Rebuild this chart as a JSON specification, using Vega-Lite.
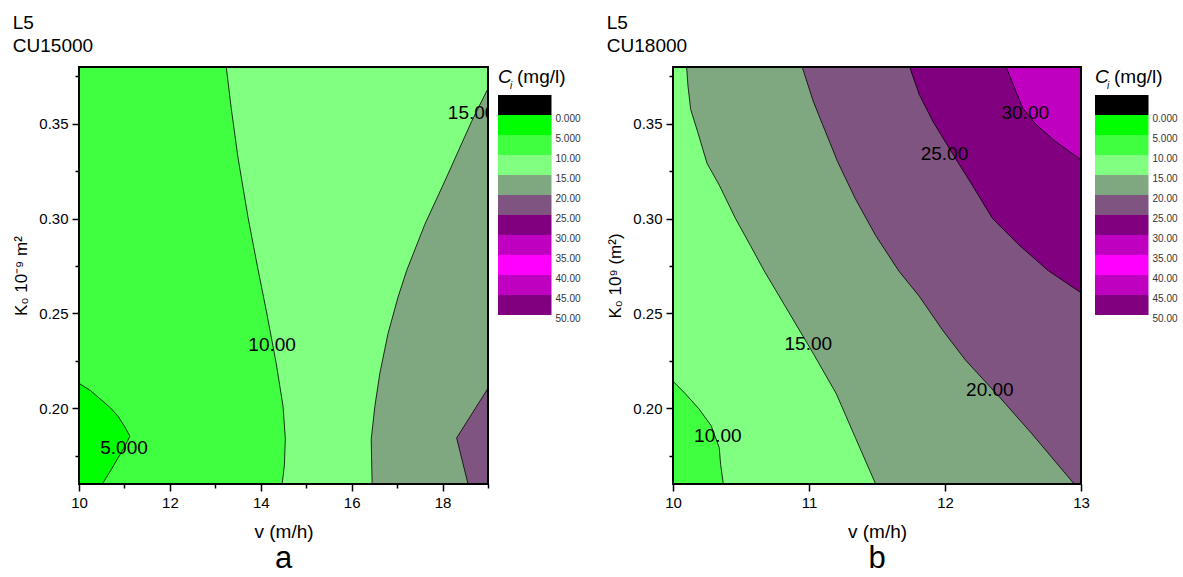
{
  "$schema": "https://vega.github.io/schema/vega-lite/v6.json",
  "background": "white",
  "padding": {"left": 12, "top": 14, "right": 0, "bottom": 0},
  "config": {
    "font": "Liberation Sans",
    "view": {"stroke": null},
    "title": {"font": "Liberation Sans", "fontWeight": "normal", "color": "black"},
    "axis": {"labelFont": "Liberation Sans", "titleFont": "Liberation Sans", "labelColor": "black", "titleColor": "black", "titleFontWeight": "normal", "tickColor": "black", "grid": false, "domain": false, "labelOverlap": false, "labelFlush": false}
  },
  "datasets": {
    "bandsA": [
      {"band": "0–5", "x": 10, "y": 0.16}, {"band": "0–5", "x": 10, "y": 0.38},
      {"band": "5–10", "x": 10.51, "y": 0.16}, {"band": "5–10", "x": 10.7, "y": 0.1672}, {"band": "5–10", "x": 10.86, "y": 0.1738}, {"band": "5–10", "x": 11.0, "y": 0.1795}, {"band": "5–10", "x": 11.12, "y": 0.1852}, {"band": "5–10", "x": 11.0, "y": 0.1905}, {"band": "5–10", "x": 10.86, "y": 0.1957}, {"band": "5–10", "x": 10.7, "y": 0.2}, {"band": "5–10", "x": 10.49, "y": 0.2044}, {"band": "5–10", "x": 10.25, "y": 0.2093}, {"band": "5–10", "x": 10.0, "y": 0.2131}, {"band": "5–10", "x": 10.0, "y": 0.38},
      {"band": "10–15", "x": 14.47, "y": 0.16}, {"band": "10–15", "x": 14.52, "y": 0.17}, {"band": "10–15", "x": 14.54, "y": 0.184}, {"band": "10–15", "x": 14.49, "y": 0.201}, {"band": "10–15", "x": 14.34, "y": 0.2236}, {"band": "10–15", "x": 14.12, "y": 0.2516}, {"band": "10–15", "x": 13.93, "y": 0.2743}, {"band": "10–15", "x": 13.72, "y": 0.3006}, {"band": "10–15", "x": 13.5, "y": 0.332}, {"band": "10–15", "x": 13.35, "y": 0.3582}, {"band": "10–15", "x": 13.24, "y": 0.38},
      {"band": "15–20", "x": 16.45, "y": 0.16}, {"band": "15–20", "x": 16.43, "y": 0.1835}, {"band": "15–20", "x": 16.51, "y": 0.2009}, {"band": "15–20", "x": 16.62, "y": 0.2184}, {"band": "15–20", "x": 16.8, "y": 0.2394}, {"band": "15–20", "x": 17.02, "y": 0.2586}, {"band": "15–20", "x": 17.21, "y": 0.2726}, {"band": "15–20", "x": 17.61, "y": 0.297}, {"band": "15–20", "x": 18.05, "y": 0.3198}, {"band": "15–20", "x": 18.64, "y": 0.3513}, {"band": "15–20", "x": 19, "y": 0.3687},
      {"band": "20–25", "x": 18.56, "y": 0.16}, {"band": "20–25", "x": 18.31, "y": 0.1843}, {"band": "20–25", "x": 19, "y": 0.2105}
    ],
    "bandsB": [
      {"band": "5–10", "x": 10, "y": 0.16}, {"band": "5–10", "x": 10, "y": 0.38},
      {"band": "10–15", "x": 10.37, "y": 0.16}, {"band": "10–15", "x": 10.35, "y": 0.1704}, {"band": "10–15", "x": 10.34, "y": 0.1792}, {"band": "10–15", "x": 10.28, "y": 0.1908}, {"band": "10–15", "x": 10.19, "y": 0.1997}, {"band": "10–15", "x": 10.09, "y": 0.2077}, {"band": "10–15", "x": 10, "y": 0.2142}, {"band": "10–15", "x": 10, "y": 0.38},
      {"band": "15–20", "x": 11.49, "y": 0.16}, {"band": "15–20", "x": 11.34, "y": 0.1846}, {"band": "15–20", "x": 11.2, "y": 0.2077}, {"band": "15–20", "x": 11.03, "y": 0.229}, {"band": "15–20", "x": 10.81, "y": 0.2556}, {"band": "15–20", "x": 10.67, "y": 0.2725}, {"band": "15–20", "x": 10.57, "y": 0.2857}, {"band": "15–20", "x": 10.46, "y": 0.3}, {"band": "15–20", "x": 10.34, "y": 0.3177}, {"band": "15–20", "x": 10.25, "y": 0.3292}, {"band": "15–20", "x": 10.18, "y": 0.3461}, {"band": "15–20", "x": 10.13, "y": 0.3576}, {"band": "15–20", "x": 10.11, "y": 0.37}, {"band": "15–20", "x": 10.1, "y": 0.38},
      {"band": "20–25", "x": 12.95, "y": 0.16}, {"band": "20–25", "x": 12.64, "y": 0.1864}, {"band": "20–25", "x": 12.4, "y": 0.2059}, {"band": "20–25", "x": 12.15, "y": 0.2254}, {"band": "20–25", "x": 11.98, "y": 0.2414}, {"band": "20–25", "x": 11.81, "y": 0.2591}, {"band": "20–25", "x": 11.66, "y": 0.2724}, {"band": "20–25", "x": 11.49, "y": 0.2911}, {"band": "20–25", "x": 11.34, "y": 0.3106}, {"band": "20–25", "x": 11.21, "y": 0.3301}, {"band": "20–25", "x": 11.1, "y": 0.3496}, {"band": "20–25", "x": 11.03, "y": 0.3621}, {"band": "20–25", "x": 10.95, "y": 0.38},
      {"band": "25–30", "x": 13, "y": 0.2609}, {"band": "25–30", "x": 12.76, "y": 0.2725}, {"band": "25–30", "x": 12.55, "y": 0.2857}, {"band": "25–30", "x": 12.35, "y": 0.3}, {"band": "25–30", "x": 12.2, "y": 0.3177}, {"band": "25–30", "x": 12.06, "y": 0.3337}, {"band": "25–30", "x": 11.91, "y": 0.3514}, {"band": "25–30", "x": 11.81, "y": 0.3656}, {"band": "25–30", "x": 11.74, "y": 0.38},
      {"band": "30–35", "x": 13, "y": 0.331}, {"band": "30–35", "x": 12.81, "y": 0.3408}, {"band": "30–35", "x": 12.67, "y": 0.3496}, {"band": "30–35", "x": 12.57, "y": 0.3585}, {"band": "30–35", "x": 12.52, "y": 0.3674}, {"band": "30–35", "x": 12.45, "y": 0.38}
    ],
    "labelsA": [
      {"v": 15, "x": 18.64, "y": 0.3556}, {"v": 10, "x": 14.25, "y": 0.2333}, {"v": 5, "x": 10.99, "y": 0.179}
    ],
    "labelsB": [
      {"v": 30, "x": 12.59, "y": 0.3559}, {"v": 25, "x": 11.996, "y": 0.3342}, {"v": 15, "x": 10.995, "y": 0.2339}, {"v": 20, "x": 12.33, "y": 0.2098}, {"v": 10, "x": 10.33, "y": 0.1855}
    ],
    "frameA": [{"x": 10, "x2": 19, "y": 0.16, "y2": 0.38}],
    "frameB": [{"x": 10, "x2": 13, "y": 0.16, "y2": 0.38}],
    "legend": [
      {"band": "<0", "lo": -5, "hi": 0, "label": "0.000"}, {"band": "0–5", "lo": 0, "hi": 5, "label": "5.000"}, {"band": "5–10", "lo": 5, "hi": 10, "label": "10.00"}, {"band": "10–15", "lo": 10, "hi": 15, "label": "15.00"}, {"band": "15–20", "lo": 15, "hi": 20, "label": "20.00"}, {"band": "20–25", "lo": 20, "hi": 25, "label": "25.00"}, {"band": "25–30", "lo": 25, "hi": 30, "label": "30.00"}, {"band": "30–35", "lo": 30, "hi": 35, "label": "35.00"}, {"band": "35–40", "lo": 35, "hi": 40, "label": "40.00"}, {"band": "40–45", "lo": 40, "hi": 45, "label": "45.00"}, {"band": "45–50", "lo": 45, "hi": 50, "label": "50.00"}
    ]
  },
  "spacing": 16,
  "hconcat": [
    {
      "title": {"text": ["L5", "CU15000"], "anchor": "start", "fontSize": 19, "lineHeight": 23, "offset": 10},
      "spacing": 9,
      "hconcat": [
        {
          "width": 409, "height": 417,
          "title": {"text": "a", "orient": "bottom", "fontSize": 31, "offset": 3},
          "encoding": {
            "x": {"field": "x", "type": "quantitative", "scale": {"domain": [10, 19], "nice": false, "zero": false},
              "axis": {"title": "v (m/h)", "values": [10, 11, 12, 13, 14, 15, 16, 17, 18, 19], "format": "d",
                "labelExpr": "datum.value % 2 === 0 ? datum.label : ''",
                "tickSize": {"condition": {"test": "datum.value % 2 === 0", "value": 7}, "value": 4},
                "tickWidth": 1.5, "labelFontSize": 15, "titleFontSize": 19, "labelPadding": 4, "titlePadding": 12}},
            "y": {"field": "y", "type": "quantitative", "scale": {"domain": [0.16, 0.38], "nice": false, "zero": false},
              "axis": {"title": "K₀ 10⁻⁹ m²", "values": [0.175, 0.2, 0.225, 0.25, 0.275, 0.3, 0.325, 0.35, 0.375],
                "labelExpr": "round(datum.value*1000) % 50 === 0 ? format(datum.value, '.2f') : ''",
                "tickSize": {"condition": {"test": "round(datum.value*1000) % 50 === 0", "value": 7}, "value": 4},
                "tickWidth": 1.5, "labelFontSize": 15, "titleFontSize": 17, "labelPadding": 4, "titlePadding": 8}}
          },
          "layer": [
            {
              "data": {"name": "bandsA"},
              "mark": {"type": "area", "orient": "horizontal", "clip": true},
              "encoding": {
                "x": {"field": "x", "type": "quantitative", "stack": null},
                "x2": {"datum": 19},
                "color": {"field": "band", "type": "nominal", "legend": null,
                  "scale": {"domain": ["<0", "0–5", "5–10", "10–15", "15–20", "20–25", "25–30", "30–35", "35–40", "40–45", "45–50"],
                    "range": ["#000000", "#00FF00", "#40FF40", "#80FF80", "#80A880", "#805480", "#800080", "#C000C0", "#FF00FF", "#C000C0", "#800080"]}}
              }
            },
            {
              "data": {"name": "bandsA"},
              "mark": {"type": "line", "color": "black", "strokeWidth": 0.8, "clip": true},
              "encoding": {
                "detail": {"field": "band", "type": "nominal"},
                "order": {"field": "y", "type": "quantitative"}
              }
            },
            {
              "data": {"name": "labelsA"},
              "mark": {"type": "text", "fontSize": 19, "color": "black", "clip": true, "baseline": "middle"},
              "encoding": {"text": {"field": "v", "type": "quantitative", "format": ".4r"}}
            },
            {
              "data": {"name": "frameA"},
              "mark": {"type": "rect", "fill": "transparent", "stroke": "black", "strokeWidth": 2},
              "encoding": {"x2": {"field": "x2"}, "y2": {"field": "y2"}}
            }
          ]
        },
        {
          "width": 92, "height": 280,
          "encoding": {
            "y": {"type": "quantitative", "scale": {"domain": [-12, 58], "nice": false, "zero": false, "reverse": true}, "axis": null},
            "x": {"type": "quantitative", "scale": {"domain": [0, 92], "nice": false, "zero": false}, "axis": null}
          },
          "layer": [
            {
              "data": {"name": "legend"},
              "mark": {"type": "rect"},
              "encoding": {
                "x": {"datum": 0}, "x2": {"datum": 53.5},
                "y": {"field": "lo", "type": "quantitative"}, "y2": {"field": "hi"},
                "color": {"field": "band", "type": "nominal", "legend": null,
                  "scale": {"domain": ["<0", "0–5", "5–10", "10–15", "15–20", "20–25", "25–30", "30–35", "35–40", "40–45", "45–50"],
                    "range": ["#000000", "#00FF00", "#40FF40", "#80FF80", "#80A880", "#805480", "#800080", "#C000C0", "#FF00FF", "#C000C0", "#800080"]}}
              }
            },
            {
              "data": {"name": "legend"},
              "mark": {"type": "text", "fontSize": 10, "align": "left", "baseline": "middle", "dy": 4, "color": "#333333"},
              "encoding": {
                "x": {"datum": 57.5},
                "y": {"field": "hi", "type": "quantitative"},
                "text": {"field": "label", "type": "nominal"}
              }
            },
            {
              "data": {"values": [{}]},
              "mark": {"type": "text", "text": "C", "fontSize": 19, "fontStyle": "italic", "align": "left", "baseline": "middle", "fill": "black"},
              "encoding": {"x": {"datum": 0}, "y": {"datum": -9.5}}
            },
            {
              "data": {"values": [{}]},
              "mark": {"type": "text", "text": "i", "fontSize": 10, "fontStyle": "italic", "align": "left", "baseline": "middle", "fill": "black"},
              "encoding": {"x": {"datum": 12}, "y": {"datum": -7.3}}
            },
            {
              "data": {"values": [{}]},
              "mark": {"type": "text", "text": "(mg/l)", "fontSize": 19, "align": "left", "baseline": "middle", "fill": "black"},
              "encoding": {"x": {"datum": 19}, "y": {"datum": -9.5}}
            }
          ]
        }
      ]
    },
    {
      "title": {"text": ["L5", "CU18000"], "anchor": "start", "fontSize": 19, "lineHeight": 23, "offset": 10},
      "spacing": 5,
      "hconcat": [
        {
          "width": 408, "height": 417,
          "title": {"text": "b", "orient": "bottom", "fontSize": 31, "offset": 3},
          "encoding": {
            "x": {"field": "x", "type": "quantitative", "scale": {"domain": [10, 13], "nice": false, "zero": false},
              "axis": {"title": "v (m/h)", "values": [10, 11, 12, 13], "format": "d",
                "tickSize": 7, "tickWidth": 1.5, "labelFontSize": 15, "titleFontSize": 19, "labelPadding": 4, "titlePadding": 12}},
            "y": {"field": "y", "type": "quantitative", "scale": {"domain": [0.16, 0.38], "nice": false, "zero": false},
              "axis": {"title": "K₀ 10⁹ (m²)", "values": [0.175, 0.2, 0.225, 0.25, 0.275, 0.3, 0.325, 0.35, 0.375],
                "labelExpr": "round(datum.value*1000) % 50 === 0 ? format(datum.value, '.2f') : ''",
                "tickSize": {"condition": {"test": "round(datum.value*1000) % 50 === 0", "value": 7}, "value": 4},
                "tickWidth": 1.5, "labelFontSize": 15, "titleFontSize": 17, "labelPadding": 4, "titlePadding": 8}}
          },
          "layer": [
            {
              "data": {"name": "bandsB"},
              "mark": {"type": "area", "orient": "horizontal", "clip": true},
              "encoding": {
                "x": {"field": "x", "type": "quantitative", "stack": null},
                "x2": {"datum": 13},
                "color": {"field": "band", "type": "nominal", "legend": null,
                  "scale": {"domain": ["<0", "0–5", "5–10", "10–15", "15–20", "20–25", "25–30", "30–35", "35–40", "40–45", "45–50"],
                    "range": ["#000000", "#00FF00", "#40FF40", "#80FF80", "#80A880", "#805480", "#800080", "#C000C0", "#FF00FF", "#C000C0", "#800080"]}}
              }
            },
            {
              "data": {"name": "bandsB"},
              "mark": {"type": "line", "color": "black", "strokeWidth": 0.8, "clip": true},
              "encoding": {
                "detail": {"field": "band", "type": "nominal"},
                "order": {"field": "y", "type": "quantitative"}
              }
            },
            {
              "data": {"name": "labelsB"},
              "mark": {"type": "text", "fontSize": 19, "color": "black", "clip": true, "baseline": "middle"},
              "encoding": {"text": {"field": "v", "type": "quantitative", "format": ".4r"}}
            },
            {
              "data": {"name": "frameB"},
              "mark": {"type": "rect", "fill": "transparent", "stroke": "black", "strokeWidth": 2},
              "encoding": {"x2": {"field": "x2"}, "y2": {"field": "y2"}}
            }
          ]
        },
        {
          "width": 92, "height": 280,
          "encoding": {
            "y": {"type": "quantitative", "scale": {"domain": [-12, 58], "nice": false, "zero": false, "reverse": true}, "axis": null},
            "x": {"type": "quantitative", "scale": {"domain": [0, 92], "nice": false, "zero": false}, "axis": null}
          },
          "layer": [
            {
              "data": {"name": "legend"},
              "mark": {"type": "rect"},
              "encoding": {
                "x": {"datum": 0}, "x2": {"datum": 53.5},
                "y": {"field": "lo", "type": "quantitative"}, "y2": {"field": "hi"},
                "color": {"field": "band", "type": "nominal", "legend": null,
                  "scale": {"domain": ["<0", "0–5", "5–10", "10–15", "15–20", "20–25", "25–30", "30–35", "35–40", "40–45", "45–50"],
                    "range": ["#000000", "#00FF00", "#40FF40", "#80FF80", "#80A880", "#805480", "#800080", "#C000C0", "#FF00FF", "#C000C0", "#800080"]}}
              }
            },
            {
              "data": {"name": "legend"},
              "mark": {"type": "text", "fontSize": 10, "align": "left", "baseline": "middle", "dy": 4, "color": "#333333"},
              "encoding": {
                "x": {"datum": 57.5},
                "y": {"field": "hi", "type": "quantitative"},
                "text": {"field": "label", "type": "nominal"}
              }
            },
            {
              "data": {"values": [{}]},
              "mark": {"type": "text", "text": "C", "fontSize": 19, "fontStyle": "italic", "align": "left", "baseline": "middle", "fill": "black"},
              "encoding": {"x": {"datum": 0}, "y": {"datum": -9.5}}
            },
            {
              "data": {"values": [{}]},
              "mark": {"type": "text", "text": "i", "fontSize": 10, "fontStyle": "italic", "align": "left", "baseline": "middle", "fill": "black"},
              "encoding": {"x": {"datum": 12}, "y": {"datum": -7.3}}
            },
            {
              "data": {"values": [{}]},
              "mark": {"type": "text", "text": "(mg/l)", "fontSize": 19, "align": "left", "baseline": "middle", "fill": "black"},
              "encoding": {"x": {"datum": 19}, "y": {"datum": -9.5}}
            }
          ]
        }
      ]
    }
  ]
}
